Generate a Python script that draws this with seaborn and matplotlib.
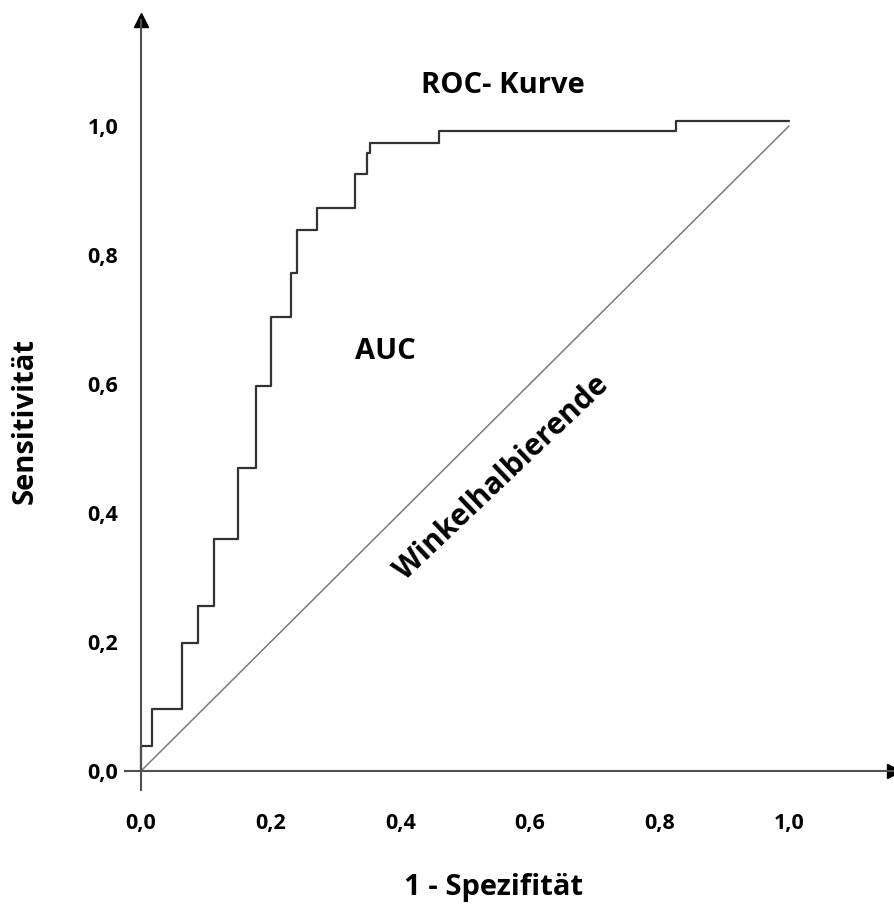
import matplotlib
matplotlib.use("Agg")
import matplotlib.pyplot as plt
import seaborn as sns
import pandas as pd

# ---- data ----
fpr = [0.0, 0.0, 0.0175, 0.063, 0.088, 0.112, 0.149, 0.178, 0.200, 0.232,
       0.241, 0.271, 0.331, 0.349, 0.353, 0.460, 0.825, 1.0]
tpr = [0.0, 0.039, 0.096, 0.198, 0.256, 0.359, 0.470, 0.597, 0.704, 0.772,
       0.839, 0.873, 0.925, 0.958, 0.973, 0.992, 1.007, 1.007]
diag_x = [0.0, 1.0]
diag_y = [0.0, 1.0]
tick_vals = [0.0, 0.2, 0.4, 0.6, 0.8, 1.0]
tick_labels = ["0,0", "0,2", "0,4", "0,6", "0,8", "1,0"]

sns.set_style("white")
FONT = ["Open Sans", "DejaVu Sans"]
plt.rcParams["font.family"] = FONT
plt.rcParams["text.color"] = "black"

W, H = 895, 908
fig = plt.figure(figsize=(W / 100, H / 100), dpi=100)
ax = fig.add_axes([0, 0, 1, 1])

ox, oy = 141, 771          # pixel position of origin (from top)
ux, uy = 648, 645          # pixels per unit
ax.set_xlim(-ox / ux, (W - ox) / ux)
ax.set_ylim(-(H - oy) / uy, oy / uy)

roc = pd.DataFrame({"fpr": fpr, "tpr": tpr})
diag = pd.DataFrame({"x": diag_x, "y": diag_y})

sns.lineplot(data=diag, x="x", y="y", ax=ax, color="#7a7a7a", lw=1.1,
             estimator=None, sort=False)
sns.lineplot(data=roc, x="fpr", y="tpr", ax=ax, color="#333333", lw=1.6,
             estimator=None, sort=False, drawstyle="steps-post")

axis_col = "#505050"
for s in ["top", "right"]:
    ax.spines[s].set_visible(False)
ax.spines["left"].set_position(("data", 0))
ax.spines["bottom"].set_position(("data", 0))
ax.spines["left"].set_bounds(-0.029, 1.165)
ax.spines["bottom"].set_bounds(-0.025, 1.16)
for s in ["left", "bottom"]:
    ax.spines[s].set_color(axis_col)
    ax.spines[s].set_linewidth(1.5)

ax.plot(0, 1.165, marker="^", ms=10, color="black", clip_on=False)
ax.plot(1.162, 0, marker=">", ms=10, color="black", clip_on=False)

ax.set_xticks(tick_vals)
ax.set_xticklabels(tick_labels)
ax.set_yticks(tick_vals)
ax.set_yticklabels(tick_labels)
ax.tick_params(axis="both", direction="inout", length=17, width=1.1,
               color=axis_col, labelsize=15.5, labelcolor="black")
ax.tick_params(axis="x", pad=22)
ax.tick_params(axis="y", pad=8)
for lab in ax.get_xticklabels() + ax.get_yticklabels():
    lab.set_fontweight("bold")
ax.set_xlabel("")
ax.set_ylabel("")
ax.grid(False)

ax.text(0.559, 1.063, "ROC- Kurve", ha="center", va="center", color="black",
        fontsize=21, fontweight="bold", family=FONT)
ax.text(0.3765, 0.651, "AUC", ha="center", va="center", color="black",
        fontsize=21, fontweight="bold", family=FONT)
ax.text(0.557, 0.455, "Winkelhalbierende", ha="center", va="center",
        rotation=43.5, rotation_mode="anchor", color="black",
        fontsize=21.5, fontweight="bold", family=FONT)

fig.text(494 / W, 1 - 887 / H, "1 - Spezifität", ha="center", va="center",
         color="black", fontsize=21, fontweight="bold", family=FONT)
fig.text(25 / W, 1 - 421 / H, "Sensitivität", ha="center", va="center",
         rotation=90, color="black", fontsize=21, fontweight="bold",
         family=FONT)

fig.savefig("out.png", dpi=100, facecolor="white")
